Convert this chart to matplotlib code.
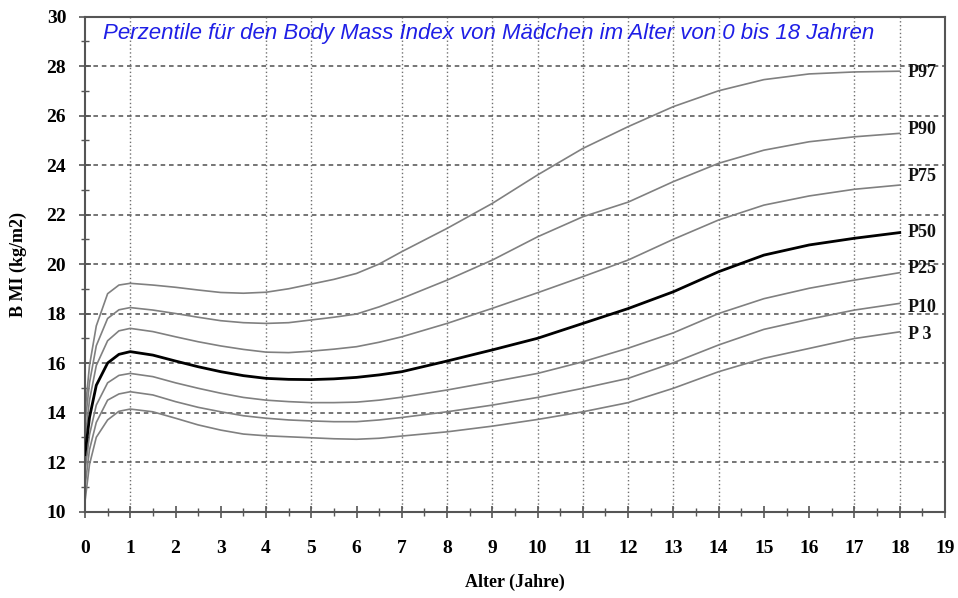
import matplotlib
matplotlib.use("Agg")
import matplotlib.pyplot as plt
from matplotlib.ticker import MultipleLocator

# Alter in Jahren
ages = [0, 0.1, 0.25, 0.5, 0.75, 1, 1.5, 2, 2.5, 3, 3.5, 4, 4.5, 5, 5.5,
        6, 6.5, 7, 8, 9, 10, 11, 12, 13, 14, 15, 16, 17, 18]

# BMI-Perzentile Mädchen
p97 = [14.0, 15.9, 17.5, 18.8, 19.15, 19.22, 19.15, 19.06, 18.95, 18.85, 18.82, 18.86, 19.0, 19.19, 19.38,
       19.62, 20.0, 20.5, 21.44, 22.45, 23.6, 24.67, 25.55, 26.36, 27.0, 27.45, 27.68, 27.76, 27.79]
p90 = [13.5, 15.2, 16.7, 17.8, 18.15, 18.24, 18.14, 18.0, 17.85, 17.71, 17.63, 17.6, 17.63, 17.74, 17.85,
       17.98, 18.27, 18.61, 19.35, 20.16, 21.1, 21.91, 22.5, 23.33, 24.07, 24.6, 24.94, 25.14, 25.28]
p75 = [12.9, 14.5, 15.9, 16.9, 17.3, 17.4, 17.27, 17.06, 16.86, 16.69, 16.55, 16.44, 16.42, 16.48, 16.56,
       16.66, 16.84, 17.06, 17.6, 18.21, 18.84, 19.49, 20.16, 21.0, 21.78, 22.38, 22.75, 23.02, 23.19]
p50 = [12.3, 13.8, 15.1, 16.0, 16.35, 16.46, 16.32, 16.08, 15.85, 15.65, 15.49, 15.38, 15.34, 15.33, 15.36,
       15.42, 15.52, 15.65, 16.08, 16.53, 17.0, 17.6, 18.2, 18.88, 19.69, 20.36, 20.77, 21.04, 21.27]
p25 = [11.6, 13.1, 14.3, 15.2, 15.5, 15.58, 15.45, 15.2, 14.98, 14.78, 14.61, 14.5, 14.44, 14.4, 14.4,
       14.42, 14.5, 14.62, 14.91, 15.24, 15.58, 16.05, 16.6, 17.22, 18.0, 18.6, 19.02, 19.35, 19.65]
p10 = [11.0, 12.5, 13.6, 14.5, 14.75, 14.84, 14.71, 14.44, 14.21, 14.03, 13.87, 13.77, 13.7, 13.66, 13.63,
       13.63, 13.7, 13.8, 14.03, 14.3, 14.61, 14.98, 15.38, 16.01, 16.73, 17.36, 17.77, 18.14, 18.41]
p3 = [10.4, 11.9, 13.0, 13.7, 14.05, 14.14, 14.03, 13.77, 13.5, 13.29, 13.13, 13.06, 13.02, 12.98, 12.94,
      12.92, 12.96, 13.05, 13.22, 13.45, 13.72, 14.03, 14.4, 14.98, 15.65, 16.19, 16.59, 16.99, 17.26]

curve_names = ["P97", "P90", "P75", "P50", "P25", "P10", "P 3"]
curves = [p97, p90, p75, p50, p25, p10, p3]

# senkrechte Gitterlinien (nur bei diesen Jahren)
vgrid_years = [1, 4, 5, 7, 8, 9, 10, 11, 12, 13, 14, 17, 18]

fig = plt.figure(figsize=(9.58, 5.98), dpi=100)
ax = fig.add_axes([0.0887, 0.1446, 0.8977, 0.8278])

ax.set_xlim(0, 19)
ax.set_ylim(10, 30)

# gitter
ax.yaxis.set_major_locator(MultipleLocator(2))
ax.yaxis.set_minor_locator(MultipleLocator(1))
ax.xaxis.set_major_locator(MultipleLocator(1))
ax.xaxis.set_minor_locator(MultipleLocator(0.5))
ax.grid(axis='y', which='major', color='#505050', linestyle=(0, (3, 2.5)), linewidth=1.1)
for yr in vgrid_years:
    ax.axvline(yr, color='#707070', linestyle=(0, (1, 1.8)), linewidth=1.0, zorder=0.5)

# kurven
for name, vals in zip(curve_names, curves):
    if name == "P50":
        ax.plot(ages, vals, color='black', linewidth=2.0, zorder=3)
    else:
        ax.plot(ages, vals, color='#808080', linewidth=1.2, zorder=2)

# beschriftung rechts
label_offsets = {"P97": -1, "P90": 3, "P75": 6, "P50": 0, "P25": 3, "P10": -3, "P 3": -2}
for name, vals in zip(curve_names, curves):
    ax.annotate(name, xy=(ages[-1], vals[-1]), xytext=(6, label_offsets[name]),
                textcoords='offset points', ha='left', va='center',
                fontsize=13, fontweight='bold', family='Liberation Serif', color='#111111')

# titel im diagramm
ax.text(0.4, 29.3, "Perzentile für den Body Mass Index von Mädchen im Alter von 0 bis 18 Jahren",
        ha='left', va='center', fontsize=16, style='italic', family='Liberation Sans',
        color='#1f1fe6')

# achsen stil
for sp in ax.spines.values():
    sp.set_color('#555555')
    sp.set_linewidth(1.5)
ax.tick_params(which='major', direction='inout', length=9, width=1.2, color='#555555')
ax.tick_params(which='minor', direction='inout', length=6, width=1.0, color='#555555')
ax.tick_params(axis='x', which='major', pad=16)
ax.tick_params(axis='y', which='major', pad=9)

for lbl in ax.get_xticklabels() + ax.get_yticklabels():
    lbl.set_family('Liberation Serif')
    lbl.set_fontweight('bold')
    lbl.set_fontsize(14)

ax.set_xlabel("Alter (Jahre)", fontsize=13, fontweight='bold', family='Liberation Serif', labelpad=12)
ax.set_ylabel("B MI (kg/m2)", fontsize=13, fontweight='bold', family='Liberation Serif', labelpad=14)

fig.savefig("out.png", dpi=100)
plt.close(fig)
